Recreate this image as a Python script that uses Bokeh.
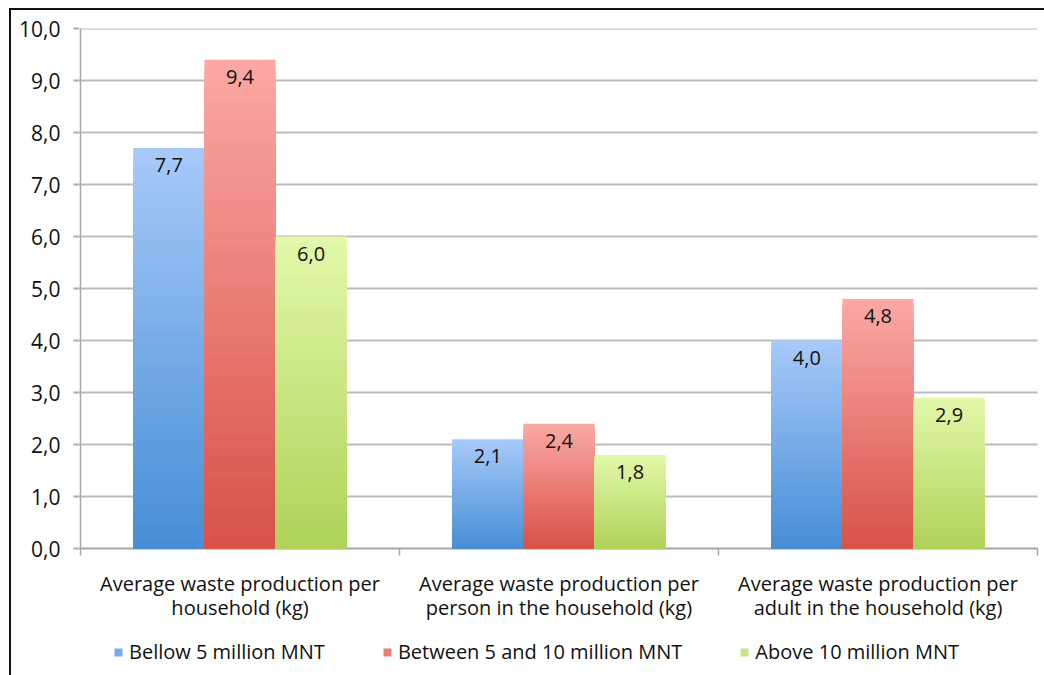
from bokeh.plotting import figure
from bokeh.models import (ColumnDataSource, FixedTicker, Legend, LegendItem)
from bokeh.core.properties import value
from bokeh.embed import file_html
from bokeh.resources import INLINE

# ---- data ----
categories = [
    "Average waste production per\nhousehold (kg)",
    "Average waste production per\nperson in the household (kg)",
    "Average waste production per\nadult in the household (kg)",
]
series_names = [
    "Bellow 5 million MNT",
    "Between 5 and 10 million MNT",
    "Above 10 million MNT",
]
below_5 = [7.7, 2.1, 4.0]
between_5_10 = [9.4, 2.4, 4.8]
above_10 = [6.0, 1.8, 2.9]
y_ticks = [0, 1, 2, 3, 4, 5, 6, 7, 8, 9, 10]

series_values = [below_5, between_5_10, above_10]

# vertical gradient per series: (top colour, bottom colour)
gradients = [
    ((0xa6, 0xc9, 0xf8), (0x48, 0x8e, 0xd6)),
    ((0xfb, 0xa8, 0xa4), (0xd8, 0x52, 0x48)),
    ((0xe2, 0xf8, 0xaa), (0xaf, 0xd2, 0x5a)),
]

FONT = "Open Sans"
TEXT = "#111111"
GRID = "#bcbcbc"
AXIS = "#a8a8a8"
FS = "20px"

bar_w = 0.223
n_slices = 48

# layout: one category = 319 px, one unit on y = 52 px
PX_X = 319.0
PX_Y = 52.0
FRAME_W = 966
FRAME_H = 647
x_start = -2 / PX_X
x_end = x_start + FRAME_W / PX_X
y_top = max(y_ticks)
y_start = y_top - FRAME_H / PX_Y
n_cat = len(categories)

p = figure(
    width=1033, height=665,
    x_range=(x_start, x_end), y_range=(y_start, y_top),
    output_backend="svg", toolbar_location=None, x_axis_location=None,
    min_border_left=67, min_border_top=18, min_border_right=0,
    min_border_bottom=0,
)
p.frame_width = FRAME_W
p.frame_height = FRAME_H
p.styles = {
    "margin-left": "9px",
    "margin-top": "8px",
    "border-left": "2px solid #111",
    "border-top": "2px solid #111",
}
p.outline_line_color = None
p.background_fill_color = "white"
p.border_fill_color = "white"
p.xgrid.grid_line_color = None
p.ygrid.grid_line_color = None

# horizontal gridlines
p.segment(x0=[x_start] * len(y_ticks), y0=y_ticks,
          x1=[n_cat] * len(y_ticks), y1=y_ticks,
          line_color=GRID, line_width=2)

# category axis: baseline, boundary ticks
p.segment(x0=[0], y0=[0], x1=[n_cat], y1=[0], line_color=AXIS, line_width=1.5)
bounds = list(range(n_cat + 1))
p.segment(x0=bounds, y0=[0] * len(bounds), x1=bounds,
          y1=[-7 / PX_Y] * len(bounds), line_color=AXIS, line_width=1.5)
# value axis line
p.segment(x0=[0], y0=[0], x1=[0], y1=[y_top], line_color=AXIS, line_width=1.5)


def mix(c0, c1, t):
    return "#%02x%02x%02x" % tuple(int(round(a + (b - a) * t)) for a, b in zip(c0, c1))


legend_items = []
for s, (vals, (top_c, bot_c)) in enumerate(zip(series_values, gradients)):
    xs, tops, colors = [], [], []
    # tallest slice first, each following slice shorter and darker
    for k in range(n_slices):
        frac = 1 - k / n_slices
        t = k / (n_slices - 1)
        for i, v in enumerate(vals):
            xs.append(i + 0.5 + (s - 1) * bar_w)
            tops.append(v * frac)
            colors.append(mix(top_c, bot_c, t))
    src = ColumnDataSource(dict(x=xs, top=tops, color=colors))
    r = p.vbar(x="x", top="top", bottom=0, width=bar_w, source=src,
               fill_color="color", line_color=None)
    legend_items.append(LegendItem(label=series_names[s], renderers=[r],
                                   index=(n_slices // 2) * 3))

    # value labels inside the bars
    lab = ColumnDataSource(dict(
        x=[i + 0.5 + (s - 1) * bar_w for i in range(len(vals))],
        y=vals,
        txt=[f"{v:.1f}".replace(".", ",") for v in vals],
    ))
    p.text(x="x", y="y", text="txt", source=lab, text_align="center",
           text_baseline="middle", y_offset=17, text_font=value(FONT),
           text_font_size=FS, text_color=TEXT)

# category labels, two lines each, centred under each group
for line_no, off in enumerate([35, 59]):
    p.text(x=[i + 0.5 for i in range(n_cat)], y=[0] * n_cat,
           text=[c.split("\n")[line_no] for c in categories],
           text_align="center", text_baseline="middle", y_offset=off,
           text_font=value(FONT), text_font_size=FS, text_color=TEXT)

# y axis: ticks and comma-decimal labels
p.yaxis.ticker = FixedTicker(ticks=y_ticks)
p.yaxis.major_label_overrides = {t: f"{t},0" for t in y_ticks}
p.yaxis.major_label_text_font = FONT
p.yaxis.major_label_text_font_size = "21px"
p.yaxis.major_label_text_color = TEXT
p.yaxis.major_label_standoff = 13
p.yaxis.major_tick_out = 5
p.yaxis.major_tick_in = 0
p.yaxis.minor_tick_out = 0
p.yaxis.minor_tick_in = 0
p.yaxis.axis_line_color = None
p.yaxis.major_tick_line_color = AXIS
p.yaxis.major_tick_line_width = 2

# legend row under the category labels
legend = Legend(items=legend_items, orientation="horizontal",
                location=(35, 10), spacing=57, glyph_width=10,
                glyph_height=10, label_standoff=6,
                label_text_font=FONT, label_text_font_size=FS,
                label_text_color=TEXT, border_line_color=None,
                background_fill_alpha=0, padding=0, margin=0)
p.add_layout(legend)

open("out.html", "w").write(file_html(p, INLINE))
